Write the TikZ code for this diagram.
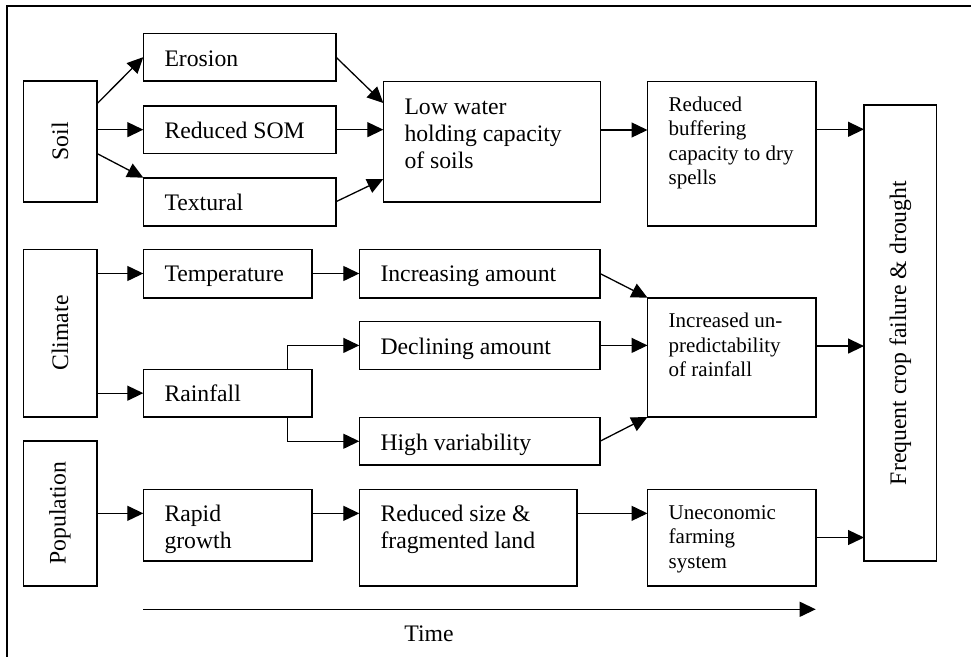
\documentclass[tikz,border=0pt]{standalone}
\usepackage{fontspec}
\setmainfont{Liberation Serif}
\usetikzlibrary{arrows.meta,calc}
\begin{document}
\begin{tikzpicture}[x=1pt,y=-1pt,
  box/.style={draw,line width=1.6pt,inner sep=0pt,outer sep=0pt,anchor=north west},
  big/.style={font=\fontsize{23.7}{27}\selectfont,anchor=base west,inner sep=0pt,align=left},
  small/.style={font=\fontsize{21}{24.4}\selectfont,anchor=base west,inner sep=0pt,align=left},
  vlab/.style={font=\fontsize{23.7}{27}\selectfont,rotate=90,inner sep=0pt},
  conn/.style={line width=1.3pt,-{Triangle[length=16pt,width=15pt]}},
  frame/.style={line width=2pt}]
\useasboundingbox (0,0) rectangle (971,656);
% frame (only left and top edges visible)
\draw[frame] (7.3,660) -- (7.3,5.7) -- (975,5.7);

% boxes
\node[box,minimum width=73.4pt,minimum height=120.7pt] (soil) at (23.3,81) {};
\node[box,minimum width=73.4pt,minimum height=167.4pt] (climate) at (23.3,249.3) {};
\node[box,minimum width=73.4pt,minimum height=144.7pt] (pop) at (23.3,441) {};
\node[box,minimum width=192.7pt,minimum height=47.7pt] (erosion) at (143.3,33.3) {};
\node[box,minimum width=192.7pt,minimum height=47.3pt] (som) at (143.3,106) {};
\node[box,minimum width=192.7pt,minimum height=48pt] (textural) at (143.3,177.7) {};
\node[box,minimum width=168.7pt,minimum height=48.4pt] (temp) at (143.3,249.3) {};
\node[box,minimum width=168.7pt,minimum height=47.7pt] (rain) at (143.3,369.3) {};
\node[box,minimum width=168.7pt,minimum height=71.4pt] (rapid) at (143.3,489.3) {};
\node[box,minimum width=217.2pt,minimum height=120.2pt] (lowwater) at (383.3,81.5) {};
\node[box,minimum width=240.7pt,minimum height=48.4pt] (incr) at (359.3,249.3) {};
\node[box,minimum width=240.7pt,minimum height=47.8pt] (decl) at (359.3,321.5) {};
\node[box,minimum width=240.7pt,minimum height=47.5pt] (highvar) at (359.3,417.5) {};
\node[box,minimum width=217.4pt,minimum height=96.4pt] (redsize) at (359.3,489.3) {};
\node[box,minimum width=168.5pt,minimum height=144.2pt] (buffer) at (647.5,81.5) {};
\node[box,minimum width=168.5pt,minimum height=119.3pt] (unpred) at (647.5,297.7) {};
\node[box,minimum width=168.5pt,minimum height=96.4pt] (unecon) at (647.5,489.3) {};
\node[box,minimum width=72.5pt,minimum height=456pt] (freq) at (864,105) {};

% texts (multi-line nodes are anchored at the baseline of their last line)
\node[vlab] (soil-t) at (soil.center) {Soil};
\node[vlab] (climate-t) at (climate.center) {Climate};
\node[vlab] (pop-t) at (pop.center) {Population};
\node[vlab] (freq-t) at (freq.center) {Frequent crop failure \& drought};
\node[big] (erosion-t) at (164.3,66.3) {Erosion};
\node[big] (som-t) at (164.3,138.5) {Reduced SOM};
\node[big] (textural-t) at (164.3,210.2) {Textural};
\node[big] (temp-t) at (164.3,281.8) {Temperature};
\node[big] (rain-t) at (164.3,401.8) {Rainfall};
\node[big] (rapid-t) at (164.3,548.8) {Rapid\\growth};
\node[big] (lowwater-t) at (404.3,168) {Low water\\holding capacity\\of soils};
\node[big] (incr-t) at (380.3,281.8) {Increasing amount};
\node[big] (decl-t) at (380.3,354) {Declining amount};
\node[big] (highvar-t) at (380.3,450) {High variability};
\node[big] (redsize-t) at (380.3,548.8) {Reduced size \&\\fragmented land};
\node[small] (buffer-t) at (668.5,184.7) {Reduced\\buffering\\capacity to dry\\spells};
\node[small] (unpred-t) at (668.5,376.5) {Increased un-\\predictability\\of rainfall};
\node[small] (unecon-t) at (668.5,568.1) {Uneconomic\\farming\\system};

% connectors: soil
\draw[conn] ([yshift=37.3pt]soil.east) -- (erosion.west);
\draw[conn] (soil.east |- som.west) -- (som.west);
\draw[conn] ([yshift=-12pt]soil.east) -- (textural.north west);
\draw[conn] (erosion.east) -- ([yshift=-21.5pt]lowwater.north west);
\draw[conn] (som.east) -- (som.east -| lowwater.west);
\draw[conn] (textural.east) -- ([yshift=22.7pt]lowwater.south west);
\draw[conn] ([yshift=11.6pt]lowwater.east) -- ([yshift=11.6pt]lowwater.east -| buffer.west);
\draw[conn] ([yshift=24.3pt]buffer.east) -- ([yshift=24.3pt]buffer.east -| freq.west);
% climate
\draw[conn] (climate.east |- temp.west) -- (temp.west);
\draw[conn] (climate.east |- rain.west) -- (rain.west);
\draw[conn] (temp.east) -- (incr.west);
\draw[conn] ([xshift=60pt]rain.north) |- (decl.west);
\draw[conn] ([xshift=60pt]rain.south) |- (highvar.west);
\draw[conn] (incr.east) -- (unpred.north west);
\draw[conn] (decl.east) -- (decl.east -| unpred.west);
\draw[conn] (highvar.east) -- (unpred.south west);
\draw[conn] ([yshift=11.3pt]unpred.east) -- ([yshift=11.3pt]unpred.east -| freq.west);
% population
\draw[conn] (pop.east) -- (pop.east -| rapid.west);
\draw[conn] (rapid.east |- pop.east) -- (redsize.west |- pop.east);
\draw[conn] (redsize.east |- pop.east) -- (unecon.west |- pop.east);
\draw[conn] (unecon.east) -- (unecon.east -| freq.west);
% time axis
\coordinate (tstart) at (143.3,609.3);
\coordinate (tend) at (815.7,609.3);
\draw[conn] (tstart) -- (tend);
\node[font=\fontsize{23.7}{27}\selectfont,anchor=base,inner sep=0pt] (time) at (429,641) {Time};
\end{tikzpicture}
\end{document}
